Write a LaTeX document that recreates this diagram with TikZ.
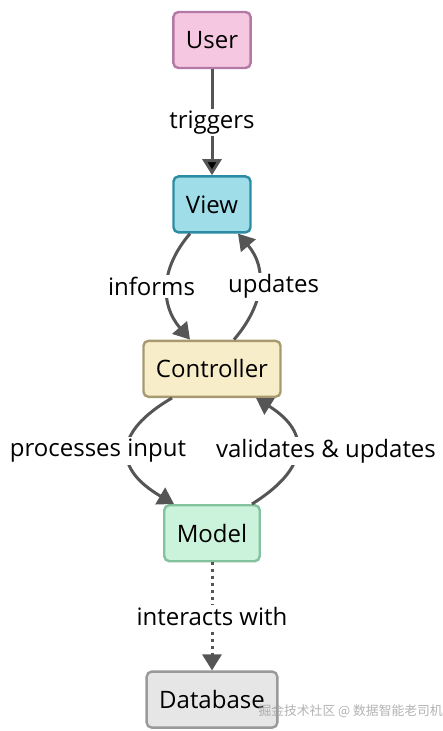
\documentclass[tikz,border=0pt]{standalone}
\usepackage{fontspec}
\setmainfont{Open Sans}
\newfontfamily\cjkfont{Noto Sans CJK SC}
\usepackage{tikz}
\usetikzlibrary{positioning,arrows.meta}

\definecolor{userfill}{HTML}{F6C7E0}
\definecolor{userline}{HTML}{B279A4}
\definecolor{viewfill}{HTML}{9FDDE9}
\definecolor{viewline}{HTML}{2B8CA3}
\definecolor{ctrlfill}{HTML}{F7EDC8}
\definecolor{ctrlline}{HTML}{A89A70}
\definecolor{modelfill}{HTML}{CBF3DC}
\definecolor{modelline}{HTML}{84C29E}
\definecolor{dbfill}{HTML}{E6E6E6}
\definecolor{dbline}{HTML}{9A9A9A}
\definecolor{edgegray}{HTML}{555555}

\tikzset{
  box/.style={draw,line width=2.4pt,rounded corners=5pt,minimum height=56pt,
    inner xsep=12.5pt,font=\fontsize{24}{28}\selectfont},
  lbl/.style={fill=white,inner sep=2pt,font=\fontsize{24}{28}\selectfont},
  flow/.style={line width=3pt,draw=edgegray,-{Triangle[width=19pt,length=16pt]}}
}

\begin{document}
\begin{tikzpicture}[x=1pt,y=-1pt,node distance=106pt]
  \useasboundingbox (0,0) rectangle (442,731);
  \node[box,fill=userfill,draw=userline] (User) at (212,40) {User};
  \node[box,fill=viewfill,draw=viewline] (View) [below=of User] {View};
  \node[box,fill=ctrlfill,draw=ctrlline] (Ctrl) [below=of View] {Controller};
  \node[box,fill=modelfill,draw=modelline] (Model) [below=of Ctrl] {Model};
  \node[box,fill=dbfill,draw=dbline] (DB) [below=108pt of Model] {Database};
  \path[flow]
   (User) edge node[lbl] {triggers} (View);
  \draw[flow] ([xshift=-22pt]View.south) .. controls +(-30,35) and +(-30,-35) ..
    node[lbl,xshift=-16pt] {informs} ([xshift=-22pt]Ctrl.north);
  \draw[flow] ([xshift=22pt]Ctrl.north) .. controls +(30,-35) and +(30,35) ..
    node[lbl,xshift=15pt] {updates} ([xshift=26pt]View.south);
  \draw[flow] ([xshift=-40pt]Ctrl.south) .. controls +(-60,35) and +(-60,-35) ..
    node[lbl,xshift=-30pt] {processes input} ([xshift=-38pt]Model.north);
  \draw[flow] ([xshift=40pt]Model.north) .. controls +(56,-35) and +(56,35) ..
    node[lbl,xshift=30pt] {validates \& updates} ([xshift=44pt]Ctrl.south);
  \draw[flow,dash pattern=on 3pt off 4pt] (Model) -- node[lbl] {interacts with} (DB);
  % watermark
  \node[text=gray!75,opacity=0.8,font=\cjkfont\fontsize{12.8}{14}\selectfont,anchor=west]
    (wm) at (255,711) {掘金技术社区 @ 数据智能老司机};
\end{tikzpicture}
\end{document}
